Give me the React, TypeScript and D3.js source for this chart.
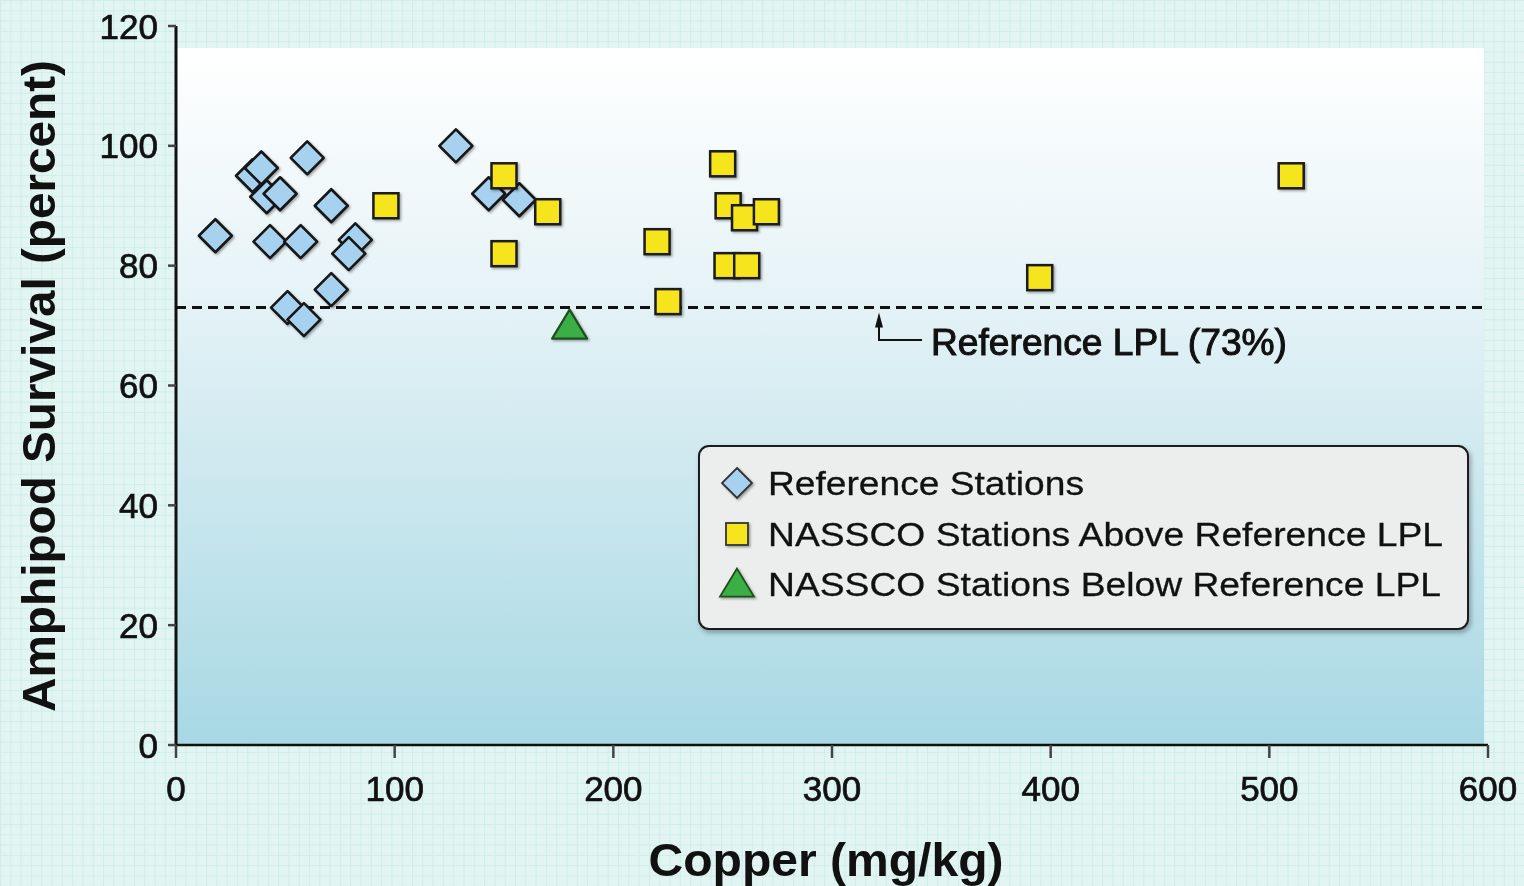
import React from "react";
import * as d3 from "d3";

const refX = [18, 35, 39, 41.5, 47.6, 60, 71, 43, 57, 82, 79, 71, 51, 58.5, 128, 143, 157];
const refY = [85, 95, 96.3, 91.5, 92, 98, 90, 84, 84, 84.3, 82, 76, 73, 71, 100, 92, 91];
const aboveX = [96, 150, 150, 170, 250, 252.5, 260, 270, 220, 252, 261, 225, 395, 510];
const aboveY = [90, 95, 82, 89, 97, 90, 88, 89, 84, 80, 80, 74, 78, 95];
const belowX = [180];
const belowY = [70];
const xTicks = [0, 100, 200, 300, 400, 500, 600];
const yTicks = [0, 20, 40, 60, 80, 100, 120];
const lpl = 73;
const legendLabels = ["Reference Stations", "NASSCO Stations Above Reference LPL", "NASSCO Stations Below Reference LPL"];

const W = 1524, H = 886;
const FONT = "'Liberation Sans', Arial, Helvetica, sans-serif";

export default function App() {
  const x = d3.scaleLinear().domain([0, 600]).range([176, 1488]);
  const y = d3.scaleLinear().domain([0, 120]).range([745, 26]);
  const plotTop = 48, plotRight = 1484;

  const diamondPath = (cx: number, cy: number, r: number) =>
    `M${cx},${cy - r}L${cx + r},${cy}L${cx},${cy + r}L${cx - r},${cy}Z`;
  const trianglePath = (cx: number, cy: number, w: number, h: number) =>
    `M${cx},${cy - h * 0.55}L${cx + w / 2},${cy + h * 0.45}L${cx - w / 2},${cy + h * 0.45}Z`;

  const legendY = [483, 534, 584];
  const textStroke = { stroke: "#111", strokeWidth: 0.7 };

  return (
    <div style={{ position: "fixed", left: 0, top: 0, width: W, height: H }}>
      <svg width={W} height={H} style={{ display: "block" }}>
        <defs>
          <pattern id="grid" width={10.3} height={10.3} patternUnits="userSpaceOnUse">
            <rect width={10.3} height={10.3} fill="#e2f5f3" />
            <path d="M0,0.5H10.3M0.5,0V10.3" stroke="#cdeee9" strokeWidth={1} />
          </pattern>
          <linearGradient id="plotGrad" x1="0" y1="0" x2="0" y2="1">
            <stop offset="0" stopColor="#ffffff" />
            <stop offset="0.35" stopColor="#e6f3f7" />
            <stop offset="1" stopColor="#a7d8e3" />
          </linearGradient>
          <filter id="shadow" x="-30%" y="-30%" width="160%" height="160%">
            <feDropShadow dx={1.5} dy={1.5} stdDeviation={1} floodColor="#000" floodOpacity={0.35} />
          </filter>
          <filter id="boxShadow" x="-5%" y="-5%" width="110%" height="115%">
            <feDropShadow dx={2} dy={3} stdDeviation={2.5} floodColor="#000" floodOpacity={0.3} />
          </filter>
        </defs>
        <rect width={W} height={H} fill="url(#grid)" />
        <rect x={x(0)} y={plotTop} width={plotRight - x(0)} height={y(0) - plotTop} fill="url(#plotGrad)" />

        {/* LPL dashed line */}
        <line x1={x(0)} x2={x(600)} y1={y(lpl)} y2={y(lpl)} stroke="#111" strokeWidth={3} strokeDasharray="10 6" />

        {/* annotation */}
        <path d={`M879,${y(lpl) + 18}V340H922`} fill="none" stroke="#111" strokeWidth={2} />
        <path d={`M879,${y(lpl) + 5}L875,${y(lpl) + 20}L883,${y(lpl) + 20}Z`} fill="#111" />
        <text x={931} y={342} dominantBaseline="central" fontFamily={FONT} fontSize={36}
          textLength={356} lengthAdjust="spacingAndGlyphs" fill="#111" {...textStroke} strokeWidth={1}>Reference LPL (73%)</text>

        {/* axes */}
        <line x1={x(0)} x2={x(0)} y1={y(120)} y2={y(0)} stroke="#111" strokeWidth={3} />
        <line x1={x(0)} x2={x(600)} y1={y(0)} y2={y(0)} stroke="#111" strokeWidth={2.5} />
        {yTicks.map((t) => (
          <g key={"y" + t}>
            <line x1={x(0) - 8} x2={x(0)} y1={y(t)} y2={y(t)} stroke="#444" strokeWidth={2.5} />
            <text x={158} y={y(t)} textAnchor="end" dominantBaseline="central" fontFamily={FONT}
              fontSize={35} fill="#111" {...textStroke}>{t}</text>
          </g>
        ))}
        {xTicks.map((t) => (
          <g key={"x" + t}>
            <line x1={x(t)} x2={x(t)} y1={y(0)} y2={y(0) + 13} stroke="#444" strokeWidth={2.5} />
            <text x={x(t)} y={788} textAnchor="middle" dominantBaseline="central" fontFamily={FONT}
              fontSize={35} fill="#111" {...textStroke}>{t}</text>
          </g>
        ))}
        <text x={826} y={876} textAnchor="middle" fontFamily={FONT} fontSize={47} fontWeight="bold"
          textLength={355} lengthAdjust="spacingAndGlyphs" fill="#111">Copper (mg/kg)</text>
        <text transform="translate(55,386) rotate(-90)" textAnchor="middle" fontFamily={FONT} fontSize={47}
          fontWeight="bold" textLength={652} lengthAdjust="spacingAndGlyphs" fill="#111">Amphipod Survival (percent)</text>

        {/* reference diamonds */}
        <g filter="url(#shadow)">
          {refX.map((v, i) => (
            <path key={"r" + i} d={diamondPath(x(v), y(refY[i]), 16.5)} fill="#a6d1ef" stroke="#151515" strokeWidth={2.6} strokeLinejoin="round" />
          ))}
        </g>
        {/* above squares */}
        <g filter="url(#shadow)">
          {aboveX.map((v, i) => (
            <rect key={"a" + i} x={x(v) - 12.5} y={y(aboveY[i]) - 12.5} width={25} height={25} fill="#f6e51c" stroke="#1a1a1a" strokeWidth={2.5} />
          ))}
        </g>
        {/* below triangles */}
        <g filter="url(#shadow)">
          {belowX.map((v, i) => (
            <path key={"b" + i} d={trianglePath(x(v), y(belowY[i]), 35, 29)} fill="#3bae45" stroke="#1f4f1f" strokeWidth={2.2} strokeLinejoin="round" />
          ))}
        </g>

        {/* legend */}
        <rect x={699} y={446} width={769} height={183} rx={10} fill="#eceeee" stroke="#1a1a1a" strokeWidth={2} filter="url(#boxShadow)" />
        <path d={diamondPath(737, legendY[0], 15)} fill="#a6d1ef" stroke="#333" strokeWidth={1.8} filter="url(#shadow)" />
        <rect x={737 - 11} y={legendY[1] - 11} width={22} height={22} fill="#f6e51c" stroke="#333" strokeWidth={1.8} filter="url(#shadow)" />
        <path d={trianglePath(737, legendY[2], 34, 28)} fill="#3bae45" stroke="#1f4f1f" strokeWidth={1.8} filter="url(#shadow)" />
        {legendLabels.map((l, i) => (
          <text key={l} x={768} y={legendY[i]} dominantBaseline="central" fontFamily={FONT} fontSize={34}
            textLength={i === 0 ? 316 : i === 1 ? 675 : 673} lengthAdjust="spacingAndGlyphs" fill="#111"
            stroke="#111" strokeWidth={0.3}>{l}</text>
        ))}
      </svg>
    </div>
  );
}
